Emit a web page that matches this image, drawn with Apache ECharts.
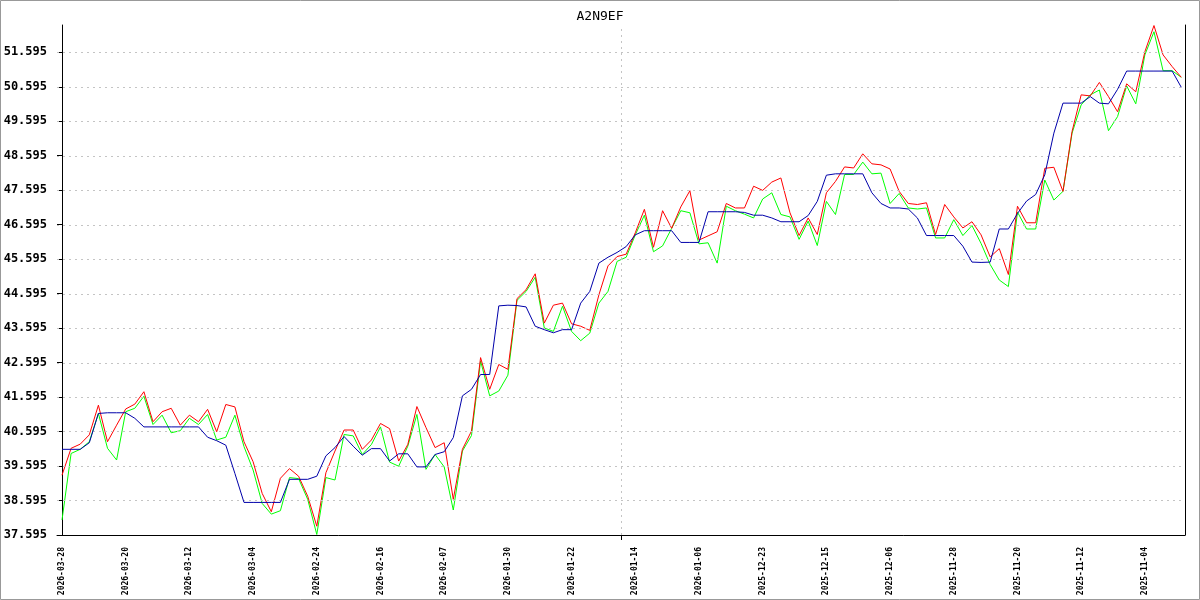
<!DOCTYPE html>
<html>
<head>
<meta charset="utf-8">
<script src="https://cdn.jsdelivr.net/npm/echarts@6/dist/echarts.min.js"></script>
<style>
html,body{margin:0;padding:0;background:#fff;}
#chart{width:1200px;height:600px;}
</style>
</head>
<body>
<div id="chart"></div>
<script>
const title = "A2N9EF";
const tickLabels = ["2026-03-28","2026-03-20","2026-03-12","2026-03-04","2026-02-24","2026-02-16","2026-02-07","2026-01-30","2026-01-22","2026-01-14","2026-01-06","2025-12-23","2025-12-15","2025-12-06","2025-11-28","2025-11-20","2025-11-12","2025-11-04"];
const yTicks = [37.595,38.595,39.595,40.595,41.595,42.595,43.595,44.595,45.595,46.595,47.595,48.595,49.595,50.595,51.595];

const redSeries = [39.33,40.11,40.23,40.50,41.36,40.30,40.78,41.25,41.39,41.75,
40.88,41.17,41.27,40.78,41.07,40.88,41.24,40.59,41.38,41.31,
40.30,39.72,38.80,38.27,39.24,39.52,39.30,38.72,37.85,39.40,
40.03,40.64,40.64,40.08,40.35,40.83,40.68,39.74,40.22,41.32,
40.71,40.13,40.27,38.63,40.08,40.61,42.74,41.82,42.54,42.40,
44.45,44.71,45.17,43.74,44.26,44.32,43.72,43.65,43.53,44.56,
45.40,45.67,45.74,46.36,47.04,45.94,47.00,46.49,47.11,47.58,
46.15,46.27,46.39,47.21,47.08,47.08,47.71,47.59,47.83,47.95,
46.94,46.28,46.79,46.31,47.52,47.85,48.27,48.24,48.65,48.36,
48.33,48.21,47.56,47.21,47.18,47.23,46.31,47.18,46.82,46.50,
46.68,46.30,45.66,45.90,45.15,47.13,46.65,46.65,48.23,48.26,
47.56,49.30,50.36,50.33,50.72,50.31,49.87,50.68,50.45,51.61,
52.37,51.52,51.18,50.87];

const greenSeries = [38.03,39.96,40.08,40.30,41.12,40.11,39.77,41.17,41.27,41.62,
40.80,41.07,40.56,40.62,40.98,40.80,41.09,40.35,40.43,41.07,
40.16,39.48,38.51,38.20,38.30,39.26,39.23,38.63,37.61,39.26,
39.19,40.51,40.47,39.93,40.22,40.73,39.71,39.59,40.17,41.09,
39.50,39.93,39.57,38.32,40.03,40.48,42.64,41.63,41.77,42.23,
44.40,44.66,45.07,43.60,43.50,44.23,43.50,43.23,43.45,44.32,
44.66,45.53,45.65,46.30,46.87,45.81,45.98,46.49,47.00,46.94,
46.04,46.07,45.48,47.13,47.00,46.90,46.79,47.34,47.52,46.89,
46.82,46.17,46.70,45.99,47.27,46.89,48.05,48.05,48.41,48.07,
48.09,47.21,47.50,47.08,47.05,47.08,46.21,46.21,46.74,46.28,
46.57,46.05,45.44,44.99,44.80,46.96,46.47,46.47,47.89,47.31,
47.56,49.25,50.07,50.36,50.50,49.32,49.73,50.62,50.10,51.52,
52.19,51.06,51.06,50.87];

const blueSeries = [40.08,40.08,40.08,40.27,41.12,41.14,41.14,41.14,40.98,40.73,
40.73,40.73,40.73,40.73,40.73,40.73,40.43,40.33,40.20,39.38,
38.54,38.54,38.54,38.54,38.54,39.21,39.21,39.21,39.30,39.89,
40.13,40.45,40.17,39.91,40.10,40.10,39.74,39.95,39.95,39.57,
39.57,39.93,40.01,40.42,41.63,41.82,42.25,42.25,44.24,44.26,
44.25,44.21,43.65,43.55,43.46,43.55,43.55,44.32,44.66,45.48,
45.65,45.79,45.96,46.30,46.42,46.42,46.42,46.42,46.08,46.08,
46.08,46.97,46.97,46.97,46.97,46.95,46.87,46.87,46.79,46.68,
46.68,46.68,46.86,47.27,48.03,48.07,48.07,48.07,48.07,47.52,
47.21,47.08,47.08,47.05,46.79,46.28,46.28,46.28,46.28,45.97,
45.51,45.50,45.51,46.47,46.47,46.92,47.28,47.47,48.04,49.25,
50.12,50.12,50.12,50.31,50.12,50.10,50.52,51.05,51.05,51.05,
51.05,51.05,51.05,50.58];

const labelEvery = 7;
const xLabelValues = tickLabels.map((_, k) => k * labelEvery);
const toPairs = arr => arr.map((v, i) => [i, v]);

const chart = echarts.init(document.getElementById('chart'), null, {renderer: 'canvas'});
const gridLineStyle = {color: '#c4c4c4', type: [2, 4], width: 1};

chart.setOption({
  animation: false,
  backgroundColor: '#fff',
  title: {
    text: title, left: 'center', top: 5,
    textStyle: {fontFamily: 'DejaVu Sans Mono', fontSize: 13, fontWeight: 'normal', color: '#000'}
  },
  graphic: [{
    type: 'rect', shape: {x: 0.5, y: 0.5, width: 1199, height: 599},
    style: {fill: 'none', stroke: '#999', lineWidth: 1}, silent: true, z: 100
  }],
  grid: {left: 57, right: 15, top: 25, bottom: 65},
  xAxis: {
    type: 'value', min: -0.55, max: 123.41,
    axisLine: {show: true, onZero: false, lineStyle: {color: '#000', width: 1}},
    axisTick: {show: true, customValues: [61.5], length: 5, lineStyle: {color: '#000'}},
    splitLine: {show: false},
    axisLabel: {
      customValues: xLabelValues, rotate: 90, margin: 12,
      fontFamily: 'DejaVu Sans Mono', fontSize: 8, fontWeight: 'bold', color: '#000',
      formatter: v => tickLabels[Math.round(v / labelEvery)] || ''
    }
  },
  yAxis: [{
    type: 'value', min: 37.595, max: 52.386,
    axisLine: {show: true, lineStyle: {color: '#000', width: 1}},
    axisTick: {show: true, customValues: yTicks, length: 5, lineStyle: {color: '#000'}},
    splitLine: {show: false},
    axisLabel: {
      customValues: yTicks, margin: 10,
      fontFamily: 'DejaVu Sans Mono', fontSize: 12, fontWeight: 'bold', color: '#000',
      formatter: v => v.toFixed(3)
    }
  }, {
    type: 'value', position: 'right', min: 37.595, max: 52.386,
    axisLine: {show: true, lineStyle: {color: '#000', width: 1}},
    axisTick: {show: false}, axisLabel: {show: false}, splitLine: {show: false}
  }],
  series: [{
    name: 'grid', type: 'line', data: [], silent: true,
    markLine: {
      silent: true, symbol: 'none', label: {show: false},
      lineStyle: gridLineStyle, animation: false,
      data: yTicks.slice(1).map(v => ({yAxis: v})).concat([{xAxis: 61.5}])
    }
  }, {
    name: 'green', type: 'line', data: toPairs(greenSeries), showSymbol: false,
    lineStyle: {color: '#00ff00', width: 1}, itemStyle: {color: '#00ff00'}, z: 3
  }, {
    name: 'red', type: 'line', data: toPairs(redSeries), showSymbol: false,
    lineStyle: {color: '#ff0000', width: 1}, itemStyle: {color: '#ff0000'}, z: 4
  }, {
    name: 'blue', type: 'line', data: toPairs(blueSeries), showSymbol: false,
    lineStyle: {color: '#0000aa', width: 1}, itemStyle: {color: '#0000aa'}, z: 5
  }]
});
</script>
</body>
</html>
